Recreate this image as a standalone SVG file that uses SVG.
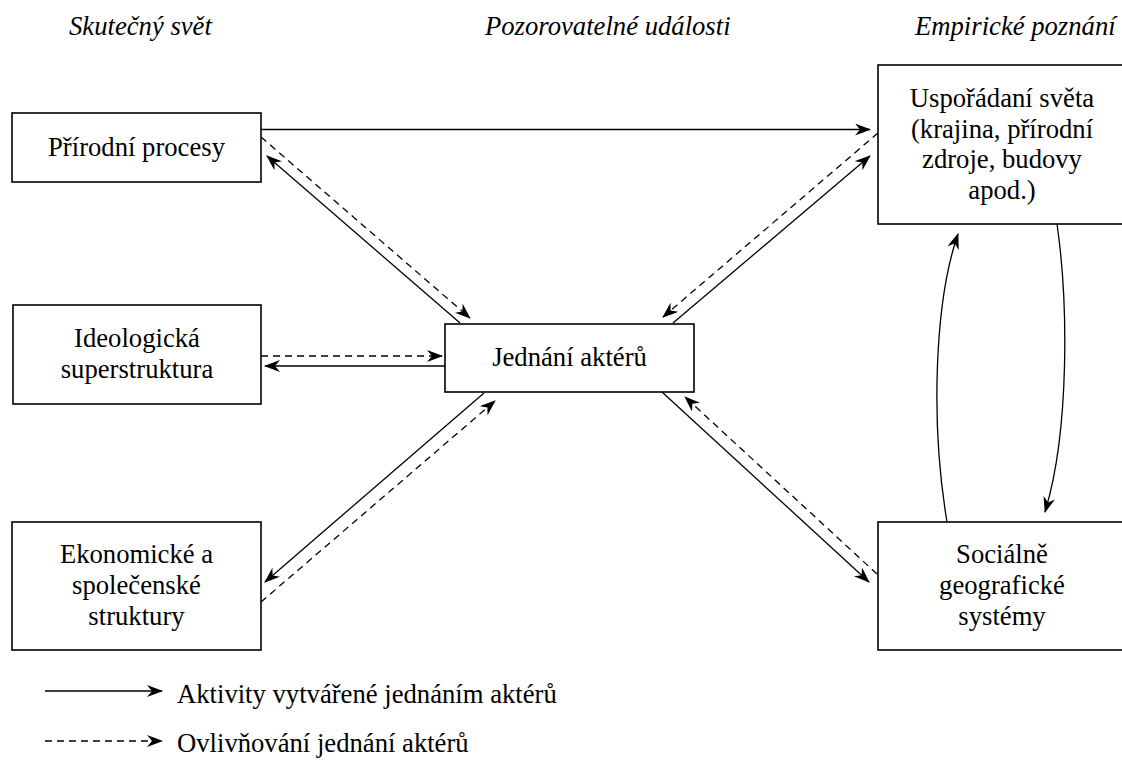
<svg xmlns="http://www.w3.org/2000/svg" width="1122" height="778" viewBox="0 0 1122 778" font-family="'Liberation Serif', 'Times New Roman', Tinos, 'DejaVu Serif', serif">
<style>
  .box { fill: #ffffff; stroke: #000000; stroke-width: 1.6; }
  text { font-family: 'Liberation Serif', 'Times New Roman', Tinos, 'DejaVu Serif', serif; font-size: 26.67px; fill: #000000; }
  .lbl { text-anchor: middle; }
  .hdr { font-style: italic; }
  .solid { fill: none; stroke: #000000; stroke-width: 1.3; marker-end: url(#arr); }
  .dash { fill: none; stroke: #000000; stroke-width: 1.3; stroke-dasharray: 7 5; marker-end: url(#arr); }
</style>
<defs>
  <marker id="arr" viewBox="0 0 16 12" refX="15" refY="6" markerWidth="16" markerHeight="12" markerUnits="userSpaceOnUse" orient="auto">
    <path d="M0,0 L16,6 L0,12 L5,6 Z" fill="#000000"/>
  </marker>
</defs>
<rect width="1122" height="778" fill="#ffffff"/>

<g id="headers">
  <text class="hdr" x="69" y="35">Skutečný svět</text>
  <text class="hdr" x="485" y="35">Pozorovatelné události</text>
  <text class="hdr" x="915" y="35">Empirické poznání</text>
</g>

<g id="connectors">
  <path class="solid" d="M261,129.5 L870,129.5"/>
  <path class="dash" d="M261,137 L470,318"/>
  <path class="solid" d="M460,323 L267,156"/>
  <path class="dash" d="M261,356 L442,356"/>
  <path class="solid" d="M445,366 L265,366"/>
  <path class="solid" d="M484,393 L265,582"/>
  <path class="dash" d="M261,602 L495,401"/>
  <path class="dash" d="M878,133 L663,317"/>
  <path class="solid" d="M673,323 L870,156"/>
  <path class="solid" d="M662,392 L869,582"/>
  <path class="dash" d="M877,574 L685,397"/>
  <path class="solid" d="M947,522 C930,420 935,300 958,234"/>
  <path class="solid" d="M1057,224 C1068,300 1070,430 1045,512"/>
</g>

<g id="node-prirodni">
  <rect class="box" x="12" y="113" width="249" height="69"/>
  <text class="lbl" x="136.5" y="155.5">Přírodní procesy</text>
</g>

<g id="node-ideologicka">
  <rect class="box" x="13" y="305" width="248" height="99"/>
  <text class="lbl" x="137" y="347">Ideologická</text>
  <text class="lbl" x="137" y="378">superstruktura</text>
</g>

<g id="node-ekonomicke">
  <rect class="box" x="12" y="522" width="249" height="128"/>
  <text class="lbl" x="136.5" y="563">Ekonomické a</text>
  <text class="lbl" x="136.5" y="594">společenské</text>
  <text class="lbl" x="136.5" y="625">struktury</text>
</g>

<g id="node-jednani">
  <rect class="box" x="445" y="324" width="249" height="68"/>
  <text class="lbl" x="569.5" y="366">Jednání aktérů</text>
</g>

<g id="node-usporadani">
  <rect class="box" x="878" y="65" width="248" height="159"/>
  <text class="lbl" x="1002" y="107">Uspořádaní světa</text>
  <text class="lbl" x="1002" y="137.5">(krajina, přírodní</text>
  <text class="lbl" x="1002" y="168">zdroje, budovy</text>
  <text class="lbl" x="1002" y="198.5">apod.)</text>
</g>

<g id="node-socialne">
  <rect class="box" x="878" y="522" width="248" height="128"/>
  <text class="lbl" x="1002" y="563">Sociálně</text>
  <text class="lbl" x="1002" y="594">geografické</text>
  <text class="lbl" x="1002" y="625">systémy</text>
</g>

<g id="legend">
  <path class="solid" d="M45,691 L162,691"/>
  <text x="177" y="703">Aktivity vytvářené jednáním aktérů</text>
  <path class="dash" d="M45,741 L162,741"/>
  <text x="177" y="752">Ovlivňování jednání aktérů</text>
</g>
</svg>
